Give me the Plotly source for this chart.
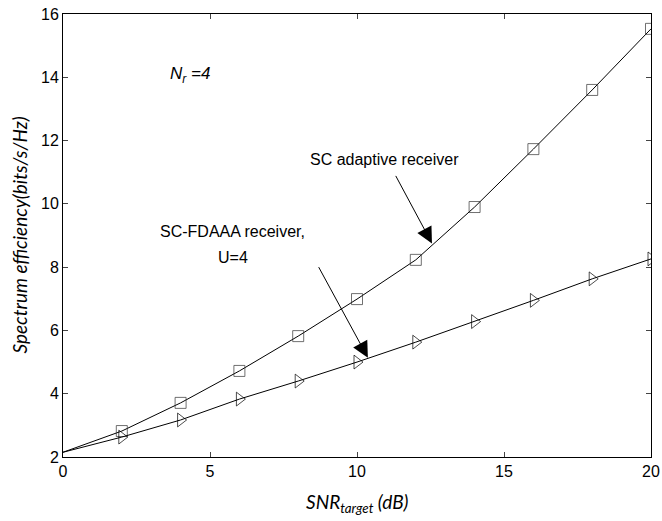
import plotly.graph_objects as go

snr = [0, 2, 4, 6, 8, 10, 12, 14, 16, 18, 20]
sc_adaptive = [2.15, 2.82, 3.71, 4.72, 5.82, 6.99, 8.23, 9.9, 11.73, 13.6, 15.53]
sc_fdaaa = [2.15, 2.63, 3.17, 3.83, 4.40, 5.0, 5.63, 6.28, 6.95, 7.63, 8.26]

x_ticks = [0, 5, 10, 15, 20]
y_ticks = [2, 4, 6, 8, 10, 12, 14, 16]

marker_sizes = [0] + [11] * (len(snr) - 1)
tri_sizes = [0] + [12] * (len(snr) - 1)

fig = go.Figure()
fig.add_trace(go.Scatter(
    x=snr, y=sc_adaptive, mode="lines+markers", name="SC adaptive receiver",
    line=dict(color="black", width=1),
    marker=dict(symbol="square-open", size=marker_sizes, color="#333333",
                line=dict(width=1, color="#333333")),
))
fig.add_trace(go.Scatter(
    x=snr, y=sc_fdaaa, mode="lines+markers", name="SC-FDAAA receiver, U=4",
    line=dict(color="black", width=1),
    marker=dict(symbol="triangle-right-open", size=tri_sizes, color="black",
                line=dict(width=1, color="black")),
))

txt_font = dict(family="Liberation Sans, Arial, sans-serif", size=16, color="black")
title_font = dict(family="Lato, Open Sans, sans-serif", size=19, color="black")

annotations = [
    dict(x=3.57, y=14.07, xref="x", yref="y", xanchor="left", yanchor="middle",
         text="<i>N<sub>r</sub> =4</i>", showarrow=False,
         font=dict(family="Liberation Sans, Arial, sans-serif", size=17, color="black")),
    dict(x=10.95, y=11.39, xref="x", yref="y", text="SC adaptive receiver",
         showarrow=False, font=txt_font),
    dict(x=5.78, y=9.12, xref="x", yref="y", text="SC-FDAAA receiver,",
         showarrow=False, font=txt_font),
    dict(x=5.78, y=8.3, xref="x", yref="y", text="U=4",
         showarrow=False, font=txt_font),
    dict(x=12.55, y=8.75, xref="x", yref="y", ax=-37, ay=-69, text="",
         showarrow=True, arrowhead=2, arrowsize=3.2, arrowwidth=1, arrowcolor="black",
         standoff=0),
    dict(x=10.37, y=5.14, xref="x", yref="y", ax=-50, ay=-92, text="",
         showarrow=True, arrowhead=2, arrowsize=3.2, arrowwidth=1, arrowcolor="black",
         standoff=0),
    # axis titles
    dict(x=0, y=0.5, xref="paper", yref="paper", xshift=-44, xanchor="center",
         yanchor="middle", textangle=-90, showarrow=False,
         text="<i>Spectrum efficiency(bits/s/Hz)</i>", font=title_font),
    dict(x=0.5, y=0, xref="paper", yref="paper", yshift=-31, xanchor="center",
         yanchor="top", showarrow=False,
         text="<i>SNR<sub>target</sub> (dB)</i>", font=title_font),
]

fig.update_layout(
    width=662, height=521,
    margin=dict(l=63, r=11, t=14, b=64),
    plot_bgcolor="white", paper_bgcolor="white",
    showlegend=False,
    annotations=annotations,
    xaxis=dict(
        range=[0, 20], tickvals=x_ticks, ticks="inside", ticklen=5,
        showline=True, linecolor="black", linewidth=1, mirror="ticks",
        showgrid=False, zeroline=False, automargin=False,
        tickfont=dict(family="Liberation Sans, Arial, sans-serif", size=16, color="black"),
    ),
    yaxis=dict(
        range=[2, 16], tickvals=y_ticks, ticks="inside", ticklen=5,
        showline=True, linecolor="black", linewidth=1, mirror="ticks",
        showgrid=False, zeroline=False, automargin=False,
        tickfont=dict(family="Liberation Sans, Arial, sans-serif", size=16, color="black"),
    ),
)

fig.write_html(
    "out.html",
    config={"displayModeBar": False},
    post_script="document.body.style.margin='0';document.body.style.overflow='hidden';",
)
